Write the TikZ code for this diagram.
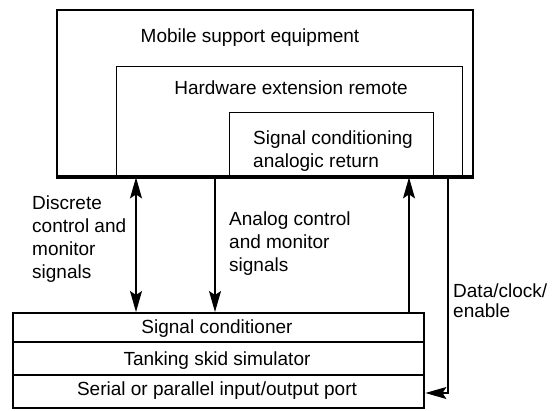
\documentclass[tikz,border=0pt]{standalone}
\usepackage{fontspec}
\setmainfont{Liberation Sans}
\usetikzlibrary{arrows.meta}
\begin{document}
\begin{tikzpicture}[x=1pt,y=-1pt,
  thickbox/.style={draw,line width=2.4pt,inner sep=0pt,anchor=north west},
  thinbox/.style={draw,line width=1.4pt,inner sep=0pt,anchor=north west},
  lbl/.style={font=\fontsize{19}{23}\selectfont,inner sep=0pt},
  conn/.style={line width=1.3pt},
  tip/.style={-{Stealth[length=21pt,width=12pt,inset=4pt]}},
  bothtips/.style={{Stealth[length=21pt,width=12pt,inset=4pt]}-{Stealth[length=21pt,width=12pt,inset=4pt]}}]
\useasboundingbox (0,0) rectangle (559,411);

% nested equipment boxes
\node[thickbox,minimum width=416pt,minimum height=166pt] (mse) at (56,9) {};
\node[thinbox,minimum width=346pt,minimum height=109pt] (hxr) at (116,66) {};
\node[thinbox,minimum width=204pt,minimum height=63pt] (sca) at (229,112) {};
\draw[line width=2.4pt] (mse.south west) -- (mse.south east);

\node[lbl] (tmse) at (250,38) {Mobile support equipment};
\node[lbl] (thxr) at (291,88) {Hardware extension remote};
\node[lbl,anchor=west,align=left] (tsca) at (253,151) {Signal conditioning\\analogic return};

% simulator stack
\node[thickbox,minimum width=411pt,minimum height=95pt] (sim) at (12,312) {};
\coordinate (d1) at (12,342);
\coordinate (d2) at (12,375);
\draw[line width=1.4pt] (d1) -- (d1 -| sim.east);
\draw[line width=1.4pt] (d2) -- (d2 -| sim.east);
\node[lbl] (r1) at (217,329) {Signal conditioner};
\node[lbl] (r2) at (217,361) {Tanking skid simulator};
\node[lbl] (r3) at (217,391) {Serial or parallel input/output port};

% connector columns
\coordinate (xd) at (136,0);
\coordinate (xa) at (215,0);
\coordinate (xr) at (409,0);
\coordinate (xc) at (448,0);
\coordinate (cc) at (448,393);

\draw[conn,bothtips] (mse.south -| xd) -- (sim.north -| xd);
\draw[conn,tip] (mse.south -| xa) -- (sim.north -| xa);
\draw[conn,tip] (sim.north -| xr) -- (mse.south -| xr);
\draw[conn,tip] (mse.south -| xc) -- (cc) -- (cc -| sim.east);

\node[lbl,anchor=north west,align=left] (ld) at (32,196) {Discrete\\control and\\monitor\\signals};
\node[lbl,anchor=north west,align=left] (la) at (229,212) {Analog control\\and monitor\\signals};
\node[lbl,anchor=north west,align=left,font=\fontsize{19}{20}\selectfont] (lc) at (453,284) {Data/clock/\\enable};
\end{tikzpicture}
\end{document}
